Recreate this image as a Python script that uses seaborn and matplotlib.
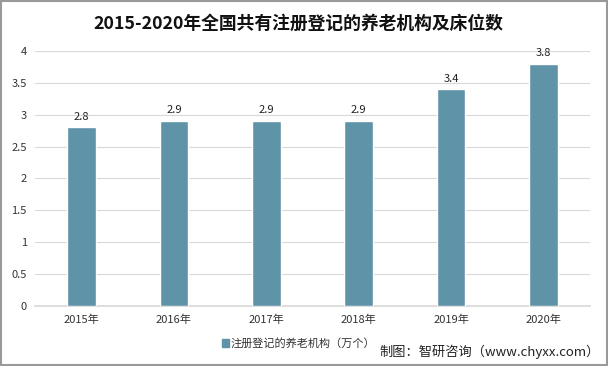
import pandas as pd
import seaborn as sns
import matplotlib.pyplot as plt
from matplotlib.patches import Rectangle

years = ['2015年', '2016年', '2017年', '2018年', '2019年', '2020年']
institutions = [2.8, 2.9, 2.9, 2.9, 3.4, 3.8]
series_name = '注册登记的养老机构（万个）'
title = '2015-2020年全国共有注册登记的养老机构及床位数'
source = '制图：智研咨询（www.chyxx.com）'

bar_color = '#5f93a8'

sns.set_theme(style='white')
plt.rcParams['font.family'] = ['Noto Sans CJK SC', 'DejaVu Sans']

df = pd.DataFrame({'year': years, 'value': institutions})

fig = plt.figure(figsize=(6.08, 3.66), dpi=100)
ax = fig.add_axes([0.058, 0.164, 0.912, 0.697])

sns.barplot(data=df, x='year', y='value', color=bar_color, width=0.31,
            saturation=1, ax=ax, zorder=3)

ax.set_ylim(0, 4)
ax.set_yticks([0, 0.5, 1, 1.5, 2, 2.5, 3, 3.5, 4])
ax.set_yticklabels(['0', '0.5', '1', '1.5', '2', '2.5', '3', '3.5', '4'])
ax.yaxis.grid(True, color='#d9d9d9', linewidth=0.8, zorder=0)
ax.tick_params(axis='both', length=0, labelsize=8, colors='#333333', pad=6)
ax.set_xlabel('')
ax.set_ylabel('')
for s in ['top', 'right', 'left']:
    ax.spines[s].set_visible(False)
ax.spines['bottom'].set_color('#d9d9d9')

for c in ax.containers:
    ax.bar_label(c, labels=[f'{v:.1f}' for v in institutions], padding=4,
                 fontsize=8, color='#222222')

fig.text(0.49, 0.935, title, ha='center', va='center', fontsize=12.8,
         fontweight='bold', color='#111111')

# legend
fig.patches.append(Rectangle((0.365, 0.052), 0.011, 0.022, transform=fig.transFigure,
                             color=bar_color, figure=fig))
fig.text(0.379, 0.063, series_name, ha='left', va='center', fontsize=8, color='#333333')
fig.text(0.987, 0.040, source, ha='right', va='center', fontsize=9.5, color='#222222')

fig.patches.append(Rectangle((0.002, 0.003), 0.996, 0.994, transform=fig.transFigure,
                             fill=False, edgecolor='#9a9a9a', linewidth=1.5, figure=fig))

fig.savefig('out.png', dpi=100)
